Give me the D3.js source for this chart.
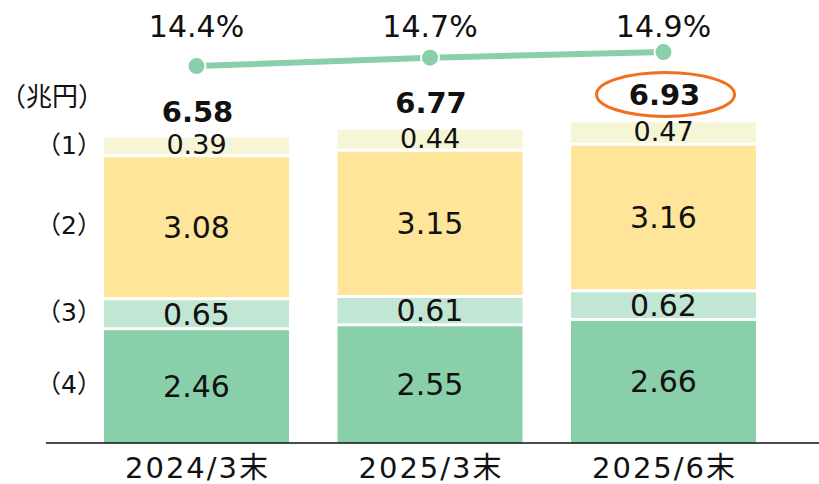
<!DOCTYPE html>
<html><head><meta charset="utf-8">
<script src="https://cdn.jsdelivr.net/npm/d3@7"></script>
<style>html,body{margin:0;padding:0;background:#fff;}svg{display:block;}</style>
</head><body>
<svg id="chart" width="819" height="484"></svg>
<script>
const categories = ["2024/3末", "2025/3末", "2025/6末"];
const seriesNames = ["（4）", "（3）", "（2）", "（1）"];
const s4 = [2.46, 2.55, 2.66];
const s3 = [0.65, 0.61, 0.62];
const s2 = [3.08, 3.15, 3.16];
const s1 = [0.39, 0.44, 0.47];
const totals = [6.58, 6.77, 6.93];
const ratios = [14.4, 14.7, 14.9];
const ratioLabels = ["14.4%", "14.7%", "14.9%"];
const unitLabel = "（兆円）";
const highlightIndex = 2;

const colors = ["#88CFAA", "#C1E6D3", "#FEE599", "#F6F5D6"];
const lineColor = "#88CFAA";
const FONT = "'DejaVu Sans', 'Noto Sans CJK JP', sans-serif";
const CJK = "'Noto Sans CJK JP', sans-serif";

const svg = d3.select("#chart");
const x = d3.scaleBand().domain(categories).range([79.76, 780.26]).paddingInner(0.2077).paddingOuter(0.1038);
const y = d3.scaleLinear().domain([0, 7]).range([443, 118.2]);
const yr = d3.scaleLinear().domain([14, 15]).range([77.3, 49.3]);

const series = [s4, s3, s2, s1];
const stacked = categories.map((c, i) => {
  let acc = 0;
  return series.map((s, k) => { const y0 = acc; acc += s[i]; return {cat: c, k, y0, y1: acc, v: s[i]}; });
});

const g = svg.append("g");
// bars
stacked.forEach(segs => {
  g.selectAll(null).data(segs).enter().append("rect")
    .attr("x", d => x(d.cat)).attr("width", x.bandwidth())
    .attr("y", d => y(d.y1)).attr("height", d => y(d.y0) - y(d.y1))
    .attr("fill", d => colors[d.k]);
});
// segment labels
stacked.forEach(segs => {
  g.selectAll(null).data(segs).enter().append("text")
    .attr("x", d => x(d.cat) + x.bandwidth() / 2)
    .attr("y", d => (y(d.y0) + y(d.y1)) / 2 - (d.k === 3 ? 2 : 0))
    .attr("dy", "0.36em")
    .attr("text-anchor", "middle")
    .attr("font-family", FONT)
    .attr("font-size", d => d.k === 3 ? 27 : 30)
    .attr("fill", "#111")
    .text(d => d.v.toFixed(2));
});
// white separators
stacked.forEach(segs => {
  g.selectAll(null).data(segs.slice(0, 3)).enter().append("line")
    .attr("x1", d => x(d.cat) - 1).attr("x2", d => x(d.cat) + x.bandwidth() + 1)
    .attr("y1", d => y(d.y1)).attr("y2", d => y(d.y1))
    .attr("stroke", "#fff").attr("stroke-width", 3);
});
// axis baseline
svg.append("line").attr("x1", 46).attr("x2", 819).attr("y1", y(0)).attr("y2", y(0))
  .attr("stroke", "#111").attr("stroke-width", 1.5);
// x labels
svg.selectAll(null).data(categories).enter().append("text")
  .attr("x", d => x(d) + x.bandwidth() / 2 + 1).attr("y", 478)
  .attr("text-anchor", "middle").attr("font-family", FONT).attr("font-size", 29)
  .attr("letter-spacing", 2).attr("fill", "#111").text(d => d);
// totals
svg.selectAll(null).data(totals).enter().append("text")
  .attr("x", (d, i) => x(categories[i]) + x.bandwidth() / 2 + 1)
  .attr("y", d => y(d) - 16)
  .attr("text-anchor", "middle").attr("font-family", FONT).attr("font-size", 29)
  .attr("font-weight", "bold").attr("fill", "#111").text(d => d.toFixed(2));
// ellipse highlight
svg.append("ellipse")
  .attr("cx", x(categories[highlightIndex]) + x.bandwidth() / 2 + 2)
  .attr("cy", y(totals[highlightIndex]) - 27)
  .attr("rx", 69).attr("ry", 22)
  .attr("fill", "none").attr("stroke", "#F0701E").attr("stroke-width", 3);
// ratio line
const pts = ratios.map((r, i) => [x(categories[i]) + x.bandwidth() / 2, yr(r)]);
svg.append("path").attr("d", d3.line()(pts)).attr("fill", "none")
  .attr("stroke", lineColor).attr("stroke-width", 6);
svg.selectAll(null).data(pts).enter().append("circle")
  .attr("cx", d => d[0]).attr("cy", d => d[1]).attr("r", 9)
  .attr("fill", lineColor).attr("stroke", "#fff").attr("stroke-width", 2);
svg.selectAll(null).data(ratioLabels).enter().append("text")
  .attr("x", (d, i) => x(categories[i]) + x.bandwidth() / 2).attr("y", 37)
  .attr("text-anchor", "middle").attr("font-family", FONT).attr("font-size", 30)
  .attr("fill", "#111").text(d => d);
// unit label
svg.append("text").attr("x", 0).attr("y", 97).attr("dy", "0.36em")
  .attr("text-anchor", "start").attr("font-family", CJK).attr("font-size", 26)
  .attr("fill", "#111").text(unitLabel);
// series labels aligned with first bar segments
svg.selectAll(null).data(stacked[0]).enter().append("text")
  .attr("x", 69).attr("y", d => (y(d.y0) + y(d.y1)) / 2 - 2).attr("dy", "0.36em")
  .attr("text-anchor", "middle").attr("font-family", FONT).attr("font-size", 25)
  .attr("fill", "#111").text((d, i) => seriesNames[i]);
</script>
</body></html>
